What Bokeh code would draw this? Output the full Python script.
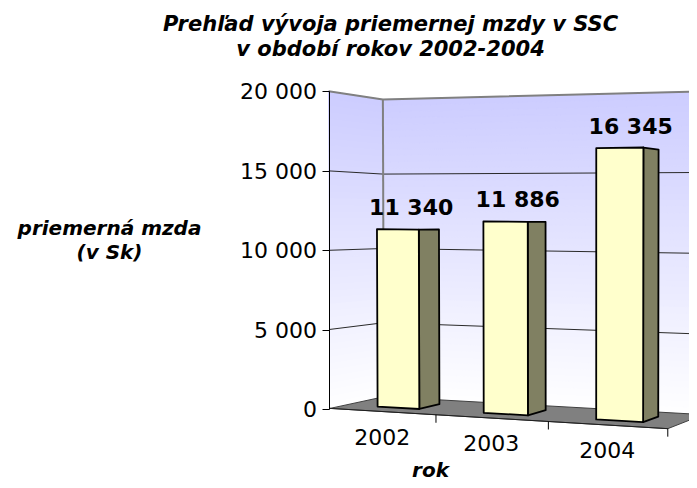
import numpy as np
from bokeh.plotting import figure
from bokeh.models import Range1d, FixedTicker
from bokeh.embed import file_html
from bokeh.resources import INLINE
from bokeh.core.properties import value

# ---------------- data ----------------
years = ["2002", "2003", "2004"]
wages = [11340, 11886, 16345]
y_ticks = [0, 5000, 10000, 15000, 20000]
y_max = 20000
title_lines = ["Prehľad vývoja priemernej mzdy v SSC", "v období rokov 2002-2004"]
y_label_lines = ["priemerná mzda", "(v Sk)"]
x_label = "rok"

# ---------------- 3D view (camera calibration) ----------------
BAR_W = 0.4     # bar width in category units
BAR_D = 0.4     # bar depth in depth units
CAT_N = len(years)


def bar_box(i):
    c0, c1 = i + 0.5 - BAR_W / 2, i + 0.5 + BAR_W / 2
    z0, z1 = 0.5 - BAR_D / 2, 0.5 + BAR_D / 2
    return c0, c1, z0, z1


# world points (category, value/y_max, depth) and where the view shows them (px)
cal_world = [(0, 0, 0), (0, 0.5, 0), (0, 1, 0), (0, 1, 1), (0, 0.75, 1), (0, 0.5, 1),
             (0, 0.25, 1), (0, 0, 1), (1, 0, 0), (2, 0, 0), (3, 0, 0)]
cal_pix = [(330, 409), (328.5, 250), (327, 91), (383, 99), (383, 173), (383, 247.5),
           (383, 322), (383, 397), (436, 415), (547, 422), (668, 428)]
bar_pix = [
    [(377, 229), (419, 229), (438, 230), (377, 404), (419, 408), (438, 403)],
    [(483, 221), (528, 221), (545, 222), (483, 411), (528, 414), (545, 412)],
    [(596, 147), (642, 147), (658, 149), (596, 419), (642, 421), (658, 416)],
]
for i, v in enumerate(wages):
    c0, c1, z0, z1 = bar_box(i)
    vn = v / y_max
    cal_world += [(c0, vn, z0), (c1, vn, z0), (c1, vn, z1), (c0, 0, z0), (c1, 0, z0), (c1, 0, z1)]
    cal_pix += bar_pix[i]


def fit_camera(W, S):
    W = np.asarray(W, float)
    S = np.asarray(S, float)
    m = S.mean(0)
    s = S.std()
    Sn = (S - m) / s
    A = []
    for (X, Y, Z), (u, v) in zip(W, Sn):
        A.append([X, Y, Z, 1, 0, 0, 0, 0, -u * X, -u * Y, -u * Z, -u])
        A.append([0, 0, 0, 0, X, Y, Z, 1, -v * X, -v * Y, -v * Z, -v])
    _, _, Vt = np.linalg.svd(np.array(A))
    Pn = Vt[-1].reshape(3, 4)
    T = np.array([[s, 0, m[0]], [0, s, m[1]], [0, 0, 1]])
    return T @ Pn


P = fit_camera(cal_world, cal_pix)

Y0_PIX, YTOP_PIX = 409.0, 91.0
K = y_max / (Y0_PIX - YTOP_PIX)


def yd(Ypix):
    return (Y0_PIX - Ypix) * K


def proj(c, v, d):
    h = P @ np.array([c, v / y_max, d, 1.0])
    X, Y = h[0] / h[2], h[1] / h[2]
    return X, yd(Y)


def poly(pts):
    xy = [proj(*q) for q in pts]
    return [a for a, b in xy], [b for a, b in xy]


# ---------------- figure ----------------
W, H = 689, 480
AXIS_X = 328.5
p = figure(width=W, height=H, output_backend="svg", toolbar_location=None, title=None,
           x_range=Range1d(0, W), y_range=Range1d(yd(H), yd(0)),
           x_axis_location=None, min_border=0)
p.outline_line_color = None
p.grid.visible = False
p.background_fill_color = "white"
p.border_fill_color = "white"

# walls with vertical gradient (bands)
top_rgb = np.array([204, 204, 255])
bot_rgb = np.array([255, 255, 255])
NB = 48
bxs, bys, bcol = [], [], []
for k in range(NB):
    v0 = y_max * k / NB
    v1 = y_max * (k + 1) / NB
    t = (k + 0.5) / NB
    rgb = (bot_rgb + (top_rgb - bot_rgb) * t).round().astype(int)
    col = "#%02x%02x%02x" % tuple(rgb)
    for pts in ([(0, v0, 1), (CAT_N, v0, 1), (CAT_N, v1, 1), (0, v1, 1)],
                [(0, v0, 0), (0, v0, 1), (0, v1, 1), (0, v1, 0)]):
        xs, ys = poly(pts)
        bxs.append(xs); bys.append(ys); bcol.append(col)
p.patches(bxs, bys, fill_color=bcol, line_color=bcol, line_width=1)

# gridlines on walls
gx, gy = [], []
for t in y_ticks[1:-1]:
    xs, ys = poly([(0, t, 0), (0, t, 1), (CAT_N, t, 1)])
    gx.append(xs); gy.append(ys)
p.multi_line(gx, gy, line_color="#2a2a2a", line_width=1)

# wall outer edges (top edge, back corner)
xs, ys = poly([(0, y_max, 0), (0, y_max, 1), (CAT_N, y_max, 1)])
p.line(xs, ys, line_color="#808080", line_width=2)
xs, ys = poly([(0, 0, 1), (0, y_max, 1)])
p.line(xs, ys, line_color="#808080", line_width=2)

# floor
xs, ys = poly([(0, 0, 0), (CAT_N, 0, 0), (CAT_N, 0, 1), (0, 0, 1)])
p.patch(xs, ys, fill_color="#808080", line_color="#404040", line_width=1)
xs, ys = poly([(0, 0, 0), (CAT_N, 0, 0)])
p.line(xs, ys, line_color="#202020", line_width=1)

# category tick marks on the floor front edge
tx0, ty0, ty1 = [], [], []
for c in range(1, CAT_N + 1):
    X, Yv = proj(c, 0, 0)
    tx0.append(X); ty0.append(Yv); ty1.append(Yv - 8 * K)
p.segment(x0=tx0, y0=ty0, x1=tx0, y1=ty1, line_color="black", line_width=1)

# bars
fx, fy, sx, sy = [], [], [], []
for i, v in enumerate(wages):
    c0, c1, z0, z1 = bar_box(i)
    a, b = poly([(c0, 0, z0), (c1, 0, z0), (c1, v, z0), (c0, v, z0)])
    fx.append(a); fy.append(b)
    a, b = poly([(c1, 0, z0), (c1, 0, z1), (c1, v, z1), (c1, v, z0)])
    sx.append(a); sy.append(b)
p.patches(sx, sy, fill_color="#808062", line_color="black", line_width=1.8, line_join="round")
p.patches(fx, fy, fill_color="#ffffcc", line_color="black", line_width=1.8, line_join="round")

# value labels
lx, ly, lt = [], [], []
for i, v in enumerate(wages):
    X, Yv = proj(i + 0.5, v, 0.5)
    lx.append(X + 3); ly.append(Yv); lt.append(f"{v:,}".replace(",", " "))
p.text(x=lx, y=ly, text=lt, text_align="center", text_baseline="middle", y_offset=-22,
       text_font=value("DejaVu Sans"), text_font_style="bold", text_font_size="22px",
       text_color="black")

# category labels
cx, cy = [], []
for i in range(CAT_N):
    X, Yv = proj(i + 0.5, 0, 0)
    cx.append(X); cy.append(Yv)
p.text(x=cx, y=cy, text=years, text_align="center", text_baseline="middle", y_offset=25,
       text_font=value("DejaVu Sans"), text_font_size="22px", text_color="black")

# axis titles and chart title (text glyphs in reference pixel positions)
bi = dict(text_align="center", text_baseline="middle", text_font=value("DejaVu Sans"),
          text_font_style="bold italic", text_color="black")
p.text(x=[430], y=[yd(469)], text=[x_label], text_font_size="20px", **bi)
p.text(x=[390, 390], y=[yd(23.5), yd(48.5)], text=title_lines, text_font_size="21px", **bi)
p.text(x=[109, 109], y=[yd(227), yd(251)], text=y_label_lines, text_font_size="20px", **bi)

# y axis placed on the front-left wall edge
ax = p.yaxis[0]
ax.fixed_location = AXIS_X
ax.ticker = FixedTicker(ticks=y_ticks)
ax.major_label_overrides = {t: f"{t:,}".replace(",", " ") for t in y_ticks}
ax.bounds = (0, y_max)
ax.minor_tick_line_color = None
ax.major_tick_out = 7
ax.major_tick_in = 0
ax.major_label_standoff = 5
ax.major_label_text_font = "DejaVu Sans"
ax.major_label_text_font_size = "22px"
ax.major_label_text_color = "black"
ax.axis_line_color = "black"
ax.major_tick_line_color = "black"

open("out.html", "w").write(file_html(p, INLINE))
